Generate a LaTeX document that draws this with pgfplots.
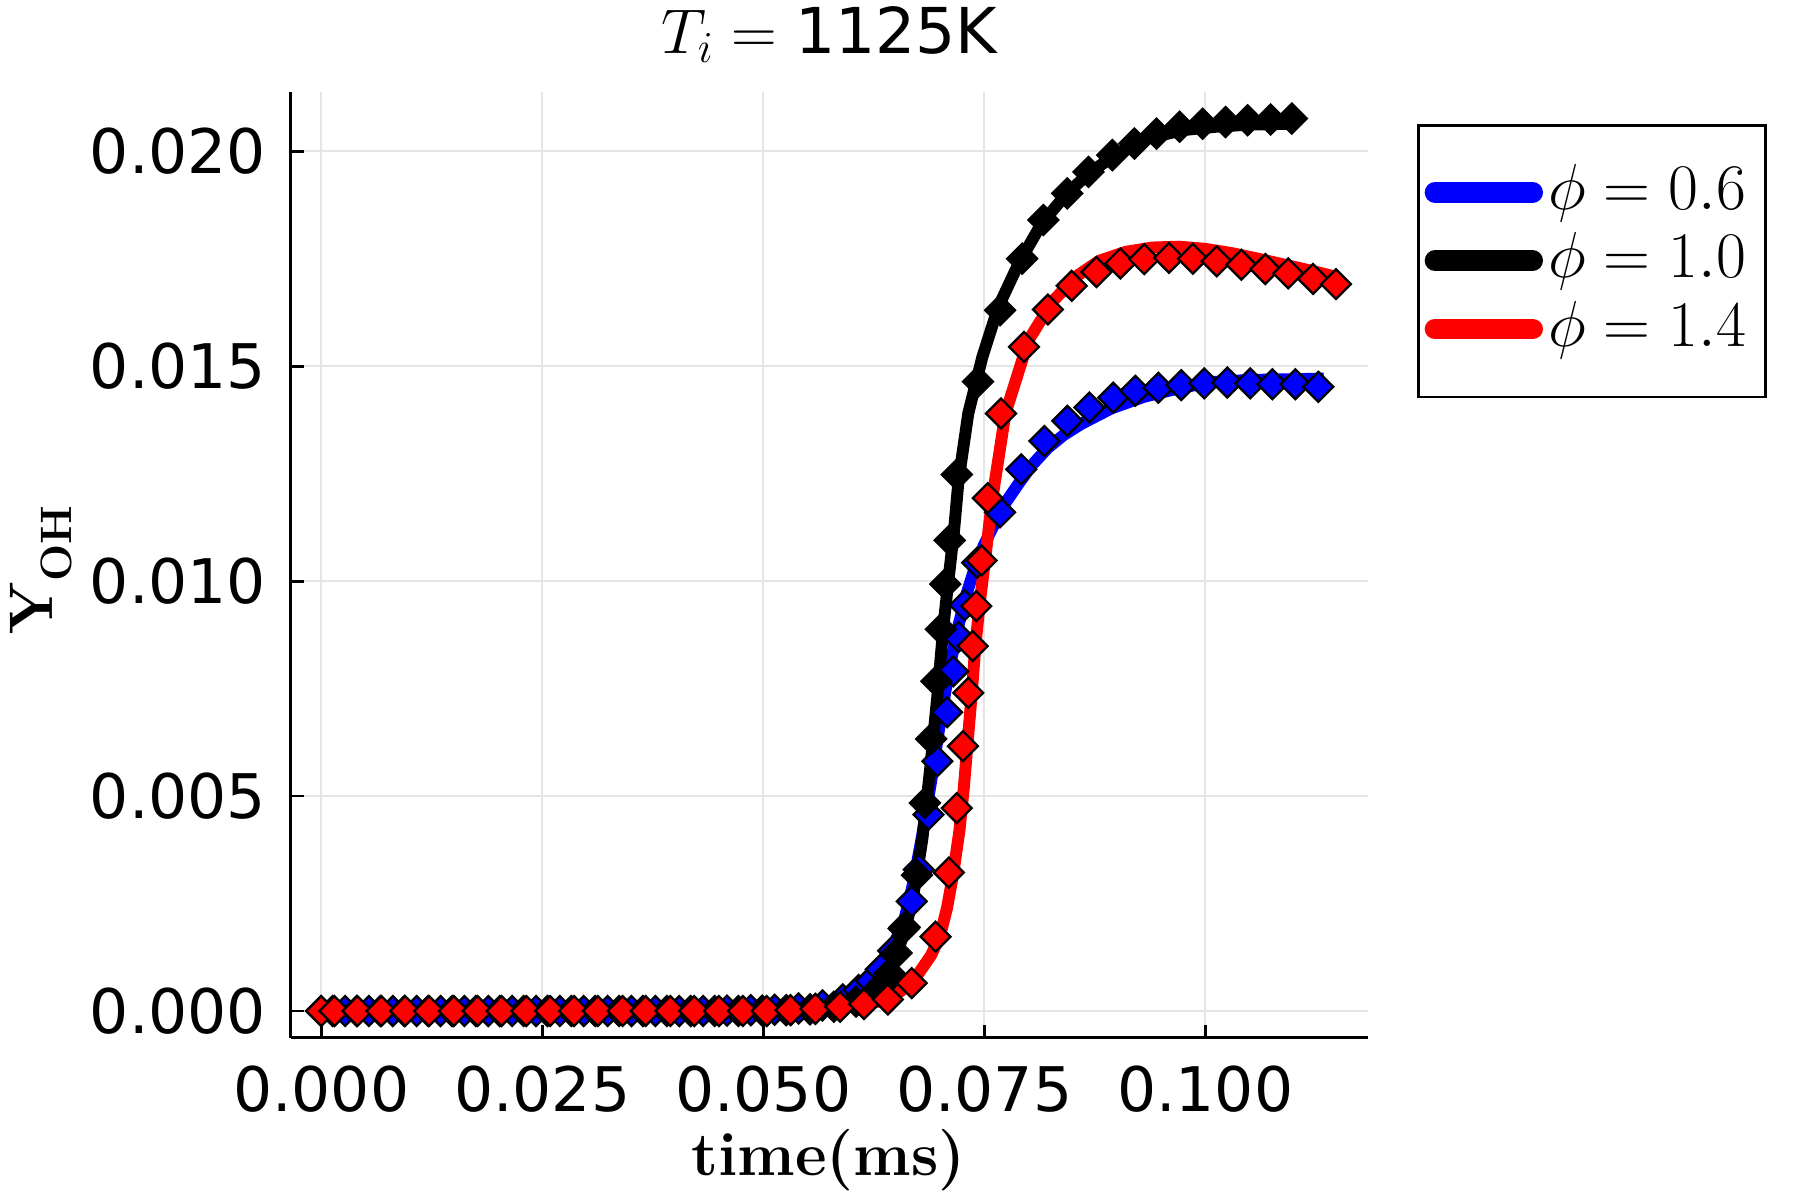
\RequirePackage{fix-cm}
\documentclass[border=0pt]{standalone}
\usepackage{fontspec}
\usepackage{pgfplots}
\pgfplotsset{compat=1.18}
\newfontfamily\dejavu{DejaVu Sans}
\definecolor{gridgray}{RGB}{229,229,229}
\pgfplotsset{dmark/.style={only marks, mark=square*, mark size=3pt, mark options={rotate=45, fill=#1, draw=black, line width=0.65pt}, forget plot}}

\begin{document}
\begin{tikzpicture}
\begin{axis}[
  scale only axis, width=10.776cm, height=9.46cm,
  xmin=-0.00345, xmax=0.11845, ymin=-0.000623, ymax=0.021383,
  axis x line*=bottom, axis y line*=left,
  axis line style={line width=0.8pt},
  tick align=inside, major tick length=0.13cm,
  tick style={line width=0.8pt, black},
  xtick={0,0.025,0.05,0.075,0.1}, ytick={0,0.005,0.01,0.015,0.02},
  scaled ticks=false,
  grid=major, major grid style={line width=0.5pt, color=gridgray},
  ticklabel style={font=\dejavu\fontsize{17.5}{20}\selectfont},
  xticklabel style={anchor=north, inner sep=0pt, yshift=-0.27cm},
  yticklabel style={anchor=east, inner sep=0pt, xshift=-0.24cm},
  /pgf/number format/fixed, /pgf/number format/fixed zerofill,
  /pgf/number format/precision=3, /pgf/number format/assume math mode=true,
  title={$T_{i} = {}${\dejavu 1125K}},
  title style={at={(axis description cs:0.5,1)}, anchor=base, yshift=0.174cm, font=\fontsize{18}{20}\selectfont, inner sep=0pt},
  xlabel={\textbf{time(ms)}},
  xlabel style={at={(axis description cs:0.499,0)}, anchor=base, yshift=-1.372cm, font=\fontsize{17.5}{20}\selectfont, inner sep=0pt},
  ylabel={\textbf{Y}\raisebox{-0.184cm}{\fontsize{12.5}{14}\selectfont\textbf{OH}}},
  ylabel style={at={(axis description cs:-0.2206,0.4945)}, rotate=0, anchor=base, font=\fontsize{17.5}{20}\selectfont, inner sep=0pt},
  legend cell align=left,
  legend style={at={(axis description cs:1.0449,0.966)}, anchor=north west, draw=black, line width=0.8pt, fill=white,
    inner xsep=0.066cm, inner ysep=0.343cm, /tikz/row sep=0.018cm, /tikz/column sep=0.05cm,
    font=\fontsize{18.5}{20}\selectfont,
    nodes={inner sep=0pt, text height=0.5cm, text depth=0.165cm}},
  legend image code/.code={\draw[line width=5.9pt, line cap=round] (0.1035cm,0.005cm) -- (1.0795cm,0.005cm);},
]
% phi = 0.6 line
\addplot[blue, line width=3.4pt, line join=round] table {
0 0
0.045 0.00002
0.052 0.00006
0.056 0.00014
0.059 0.00030
0.061 0.00055
0.063 0.00090
0.0645 0.00140
0.066 0.00215
0.067 0.00300
0.068 0.00410
0.069 0.00535
0.070 0.00670
0.071 0.00790
0.072 0.00890
0.073 0.00970
0.074 0.01035
0.075 0.01085
0.0762 0.01135
0.0775 0.01185
0.0790 0.01230
0.0805 0.01272
0.0822 0.01310
0.0840 0.01340
0.0860 0.01366
0.0894 0.01402
0.0931 0.01429
0.0969 0.01448
0.1006 0.01463
0.105 0.01468
0.1134 0.01471
};
\addlegendentry{$\phi = 0.6$\rule{0.13cm}{0pt}}
\addplot[dmark=blue] table {
0 0
0.0027 0
0.0054 0
0.0081 0
0.0108 0
0.0135 0
0.0162 0
0.0189 0
0.0216 0
0.0243 0
0.0270 0
0.0297 0
0.0324 0
0.0351 0
0.0378 0
0.0405 0
0.0432 0
0.0459 0.00001
0.0486 0.00002
0.0513 0.00003
0.0540 0.00006
0.0567 0.00013
0.0590 0.00027
0.0608 0.00049
0.0622 0.00070
0.0633 0.00097
0.0647 0.00140
0.0659 0.00192
0.0668 0.00255
0.0676 0.00329
0.0687 0.00457
0.0697 0.00581
0.0708 0.00695
0.0715 0.00790
0.0721 0.00870
0.0728 0.00944
0.0742 0.01043
0.0768 0.01160
0.0792 0.01260
0.0818 0.01326
0.0844 0.01373
0.0869 0.01404
0.0896 0.01427
0.0921 0.01443
0.0947 0.01450
0.0973 0.01456
0.0999 0.01460
0.1025 0.01462
0.1051 0.01460
0.1076 0.01458
0.1102 0.01458
0.1128 0.01452
};
% phi = 1.0 line
\addplot[black, line width=3.4pt, line join=round] table {
0 0
0.050 0.00002
0.056 0.00006
0.059 0.00012
0.0610 0.00025
0.0625 0.00042
0.0634 0.00059
0.0645 0.00095
0.0653 0.00142
0.0661 0.00195
0.0668 0.00250
0.0674 0.00320
0.0680 0.00400
0.0689 0.00565
0.0697 0.00732
0.0704 0.00898
0.0710 0.01010
0.0716 0.01120
0.0721 0.01235
0.0732 0.01390
0.0748 0.01522
0.0766 0.01638
0.0789 0.01739
0.0815 0.01832
0.0842 0.01898
0.0868 0.01948
0.0898 0.01991
0.0936 0.02030
0.0974 0.02049
0.1012 0.02057
0.1050 0.02062
0.1098 0.02064
};
\addlegendentry{$\phi = 1.0$\rule{0.13cm}{0pt}}
\addplot[dmark=black] table {
0.0013 0
0.0040 0
0.0067 0
0.0094 0
0.0121 0
0.0148 0
0.0175 0
0.0202 0
0.0229 0
0.0256 0
0.0283 0
0.0310 0
0.0337 0
0.0364 0
0.0391 0
0.0418 0
0.0445 0
0.0472 0
0.0499 0.00001
0.0526 0.00002
0.0553 0.00004
0.0580 0.00010
0.0605 0.00022
0.0623 0.00036
0.0634 0.00060
0.0643 0.00088
0.0651 0.00135
0.0660 0.00195
0.0674 0.00316
0.0683 0.00484
0.0690 0.00633
0.0696 0.00767
0.0701 0.00888
0.0706 0.00993
0.0711 0.01095
0.0719 0.01248
0.0743 0.01464
0.0768 0.01630
0.0793 0.01750
0.0817 0.01840
0.0844 0.01902
0.0868 0.01952
0.0895 0.01991
0.0920 0.02018
0.0945 0.02041
0.0971 0.02057
0.0997 0.02064
0.1023 0.02068
0.1048 0.02072
0.1074 0.02074
0.1098 0.02076
};
% phi = 1.4 line
\addplot[red, line width=3.4pt, line join=round] table {
0 0
0.050 0.00001
0.056 0.00004
0.060 0.00010
0.063 0.00022
0.0655 0.00045
0.0675 0.00085
0.0690 0.00130
0.0700 0.00175
0.0708 0.00240
0.0715 0.00320
0.0722 0.00420
0.0727 0.00520
0.0731 0.00620
0.0736 0.00740
0.0740 0.00850
0.0745 0.00950
0.0751 0.01050
0.0759 0.01190
0.0774 0.01390
0.0800 0.01560
0.0827 0.01650
0.0855 0.01710
0.0880 0.01745
0.0910 0.01766
0.0940 0.01776
0.0970 0.01778
0.1000 0.01773
0.1030 0.01763
0.1060 0.01750
0.1090 0.01736
0.1120 0.01722
0.1150 0.01707
};
\addlegendentry{$\phi = 1.4$\rule{0.13cm}{0pt}}
\addplot[dmark=red] table {
0 0
0.0015 0
0.0041 0
0.0068 0
0.0095 0
0.0122 0
0.0150 0
0.0177 0
0.0204 0
0.0232 0
0.0259 0
0.0286 0
0.0313 0
0.0341 0
0.0367 0
0.0395 0
0.0422 0
0.0450 0
0.0477 0
0.0504 0
0.0531 0.00002
0.0559 0.00005
0.0587 0.00010
0.0614 0.00016
0.0641 0.00027
0.0668 0.00065
0.0695 0.00173
0.0710 0.00322
0.0719 0.00472
0.0726 0.00616
0.0732 0.00740
0.0737 0.00849
0.0741 0.00942
0.0747 0.01048
0.0754 0.01193
0.0769 0.01390
0.0795 0.01545
0.0822 0.01632
0.0849 0.01687
0.0877 0.01719
0.0904 0.01739
0.0931 0.01749
0.0959 0.01752
0.0986 0.01750
0.1013 0.01744
0.1041 0.01736
0.1068 0.01726
0.1094 0.01716
0.1122 0.01703
0.1148 0.01691
};
\end{axis}
\pgfresetboundingbox
\path[use as bounding box] (-2.907cm,-1.622cm) rectangle ++(18cm,12cm);
\end{tikzpicture}
\end{document}
